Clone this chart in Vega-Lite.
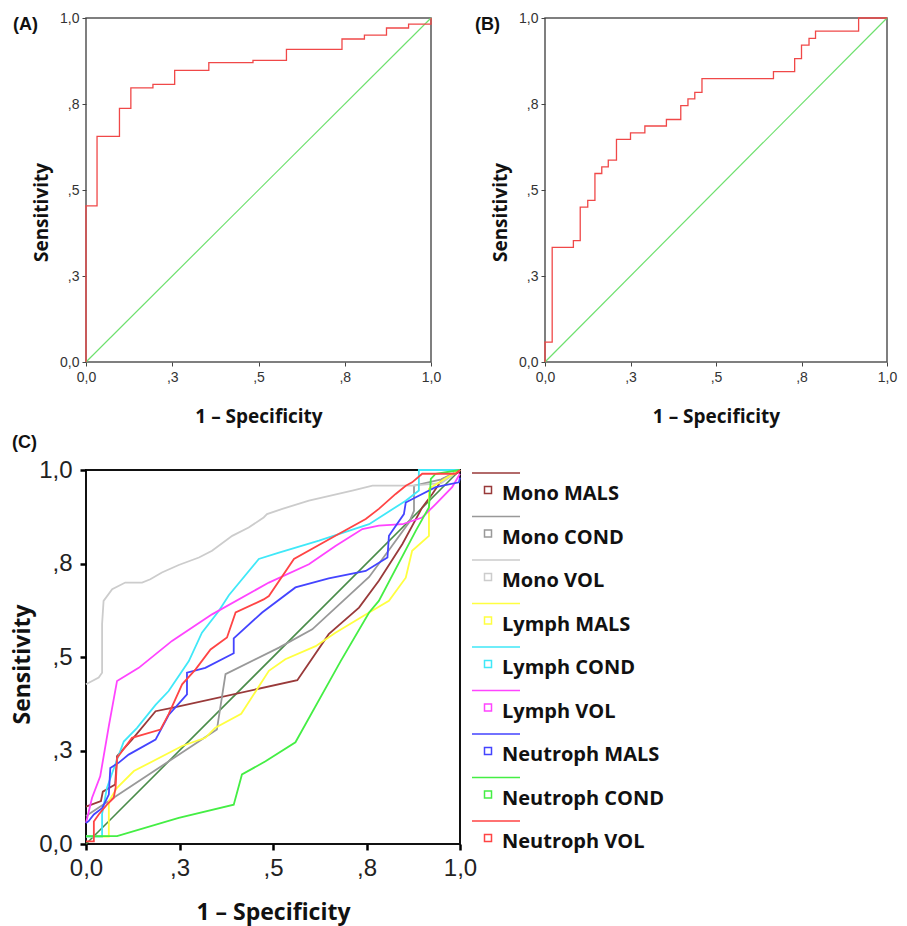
{
  "$schema": "https://vega.github.io/schema/vega-lite/v6.json",
  "padding": {"left": 10, "top": 10, "right": 5, "bottom": 5},
  "background": "white",
  "datasets": {
    "diag": [{"x": 0, "y": 0}, {"x": 1, "y": 1}],
    "rocA": [
      {"i": 0, "x": 0, "y": 0}, {"i": 1, "x": 0, "y": 0.454}, {"i": 2, "x": 0.032, "y": 0.656},
      {"i": 3, "x": 0.097, "y": 0.737}, {"i": 4, "x": 0.13, "y": 0.797}, {"i": 5, "x": 0.194, "y": 0.807},
      {"i": 6, "x": 0.257, "y": 0.848}, {"i": 7, "x": 0.356, "y": 0.87}, {"i": 8, "x": 0.484, "y": 0.877},
      {"i": 9, "x": 0.581, "y": 0.909}, {"i": 10, "x": 0.742, "y": 0.939}, {"i": 11, "x": 0.807, "y": 0.95},
      {"i": 12, "x": 0.871, "y": 0.971}, {"i": 13, "x": 0.935, "y": 0.982}, {"i": 14, "x": 1, "y": 1}
    ],
    "rocB": [
      {"i": 0, "x": 0, "y": 0}, {"i": 1, "x": 0, "y": 0.058}, {"i": 2, "x": 0.021, "y": 0.333},
      {"i": 3, "x": 0.083, "y": 0.353}, {"i": 4, "x": 0.103, "y": 0.45}, {"i": 5, "x": 0.125, "y": 0.47},
      {"i": 6, "x": 0.146, "y": 0.548}, {"i": 7, "x": 0.166, "y": 0.567}, {"i": 8, "x": 0.185, "y": 0.587},
      {"i": 9, "x": 0.209, "y": 0.647}, {"i": 10, "x": 0.25, "y": 0.666}, {"i": 11, "x": 0.292, "y": 0.686},
      {"i": 12, "x": 0.355, "y": 0.705}, {"i": 13, "x": 0.397, "y": 0.745}, {"i": 14, "x": 0.418, "y": 0.765},
      {"i": 15, "x": 0.438, "y": 0.784}, {"i": 16, "x": 0.459, "y": 0.824}, {"i": 17, "x": 0.668, "y": 0.844},
      {"i": 18, "x": 0.73, "y": 0.882}, {"i": 19, "x": 0.75, "y": 0.921}, {"i": 20, "x": 0.772, "y": 0.941},
      {"i": 21, "x": 0.791, "y": 0.962}, {"i": 22, "x": 0.917, "y": 1.0}, {"i": 23, "x": 1, "y": 1}
    ],
    "rocC": [
      {"s": "Mono MALS", "i": 0, "x": 0, "y": 0.1}, {"s": "Mono MALS", "i": 1, "x": 0.04, "y": 0.115},
      {"s": "Mono MALS", "i": 2, "x": 0.045, "y": 0.14}, {"s": "Mono MALS", "i": 3, "x": 0.078, "y": 0.159},
      {"s": "Mono MALS", "i": 4, "x": 0.083, "y": 0.235}, {"s": "Mono MALS", "i": 5, "x": 0.123, "y": 0.279},
      {"s": "Mono MALS", "i": 6, "x": 0.186, "y": 0.355}, {"s": "Mono MALS", "i": 7, "x": 0.23, "y": 0.364},
      {"s": "Mono MALS", "i": 8, "x": 0.565, "y": 0.438}, {"s": "Mono MALS", "i": 9, "x": 0.649, "y": 0.561},
      {"s": "Mono MALS", "i": 10, "x": 0.73, "y": 0.632}, {"s": "Mono MALS", "i": 11, "x": 0.783, "y": 0.704},
      {"s": "Mono MALS", "i": 12, "x": 0.846, "y": 0.802}, {"s": "Mono MALS", "i": 13, "x": 0.899, "y": 0.9},
      {"s": "Mono MALS", "i": 14, "x": 0.926, "y": 0.936}, {"s": "Mono MALS", "i": 15, "x": 0.953, "y": 0.976},
      {"s": "Mono MALS", "i": 16, "x": 0.997, "y": 0.994}, {"s": "Mono MALS", "i": 17, "x": 1, "y": 1},

      {"s": "Mono COND", "i": 0, "x": 0, "y": 0.075}, {"s": "Mono COND", "i": 1, "x": 0.35, "y": 0.306},
      {"s": "Mono COND", "i": 2, "x": 0.373, "y": 0.454}, {"s": "Mono COND", "i": 3, "x": 0.516, "y": 0.525},
      {"s": "Mono COND", "i": 4, "x": 0.605, "y": 0.574}, {"s": "Mono COND", "i": 5, "x": 0.757, "y": 0.714},
      {"s": "Mono COND", "i": 6, "x": 0.815, "y": 0.793}, {"s": "Mono COND", "i": 7, "x": 0.864, "y": 0.86},
      {"s": "Mono COND", "i": 8, "x": 0.877, "y": 0.891}, {"s": "Mono COND", "i": 9, "x": 0.877, "y": 0.958},
      {"s": "Mono COND", "i": 10, "x": 0.95, "y": 0.975}, {"s": "Mono COND", "i": 11, "x": 1, "y": 1},

      {"s": "Mono VOL", "i": 0, "x": 0, "y": 0.427}, {"s": "Mono VOL", "i": 1, "x": 0.034, "y": 0.445},
      {"s": "Mono VOL", "i": 2, "x": 0.043, "y": 0.458}, {"s": "Mono VOL", "i": 3, "x": 0.043, "y": 0.588},
      {"s": "Mono VOL", "i": 4, "x": 0.047, "y": 0.65}, {"s": "Mono VOL", "i": 5, "x": 0.07, "y": 0.681},
      {"s": "Mono VOL", "i": 6, "x": 0.105, "y": 0.699}, {"s": "Mono VOL", "i": 7, "x": 0.15, "y": 0.699},
      {"s": "Mono VOL", "i": 8, "x": 0.172, "y": 0.708}, {"s": "Mono VOL", "i": 9, "x": 0.203, "y": 0.726},
      {"s": "Mono VOL", "i": 10, "x": 0.248, "y": 0.746}, {"s": "Mono VOL", "i": 11, "x": 0.302, "y": 0.766},
      {"s": "Mono VOL", "i": 12, "x": 0.337, "y": 0.784}, {"s": "Mono VOL", "i": 13, "x": 0.391, "y": 0.824},
      {"s": "Mono VOL", "i": 14, "x": 0.435, "y": 0.846}, {"s": "Mono VOL", "i": 15, "x": 0.475, "y": 0.873},
      {"s": "Mono VOL", "i": 16, "x": 0.484, "y": 0.882}, {"s": "Mono VOL", "i": 17, "x": 0.525, "y": 0.896},
      {"s": "Mono VOL", "i": 18, "x": 0.596, "y": 0.918}, {"s": "Mono VOL", "i": 19, "x": 0.712, "y": 0.945},
      {"s": "Mono VOL", "i": 20, "x": 0.766, "y": 0.958}, {"s": "Mono VOL", "i": 21, "x": 0.872, "y": 0.958},
      {"s": "Mono VOL", "i": 22, "x": 0.95, "y": 0.965}, {"s": "Mono VOL", "i": 23, "x": 1, "y": 1},

      {"s": "Lymph MALS", "i": 0, "x": 0, "y": 0.02}, {"s": "Lymph MALS", "i": 1, "x": 0.061, "y": 0.02},
      {"s": "Lymph MALS", "i": 2, "x": 0.061, "y": 0.114}, {"s": "Lymph MALS", "i": 3, "x": 0.083, "y": 0.15},
      {"s": "Lymph MALS", "i": 4, "x": 0.128, "y": 0.195}, {"s": "Lymph MALS", "i": 5, "x": 0.257, "y": 0.262},
      {"s": "Lymph MALS", "i": 6, "x": 0.319, "y": 0.284}, {"s": "Lymph MALS", "i": 7, "x": 0.346, "y": 0.311},
      {"s": "Lymph MALS", "i": 8, "x": 0.415, "y": 0.348}, {"s": "Lymph MALS", "i": 9, "x": 0.489, "y": 0.463},
      {"s": "Lymph MALS", "i": 10, "x": 0.533, "y": 0.494}, {"s": "Lymph MALS", "i": 11, "x": 0.614, "y": 0.529},
      {"s": "Lymph MALS", "i": 12, "x": 0.667, "y": 0.565}, {"s": "Lymph MALS", "i": 13, "x": 0.757, "y": 0.619},
      {"s": "Lymph MALS", "i": 14, "x": 0.81, "y": 0.65}, {"s": "Lymph MALS", "i": 15, "x": 0.855, "y": 0.712},
      {"s": "Lymph MALS", "i": 16, "x": 0.872, "y": 0.784}, {"s": "Lymph MALS", "i": 17, "x": 0.917, "y": 0.824},
      {"s": "Lymph MALS", "i": 18, "x": 0.917, "y": 0.95}, {"s": "Lymph MALS", "i": 19, "x": 0.962, "y": 0.978},
      {"s": "Lymph MALS", "i": 20, "x": 1, "y": 1},

      {"s": "Lymph COND", "i": 0, "x": 0, "y": 0.02}, {"s": "Lymph COND", "i": 1, "x": 0.043, "y": 0.02},
      {"s": "Lymph COND", "i": 2, "x": 0.043, "y": 0.08}, {"s": "Lymph COND", "i": 3, "x": 0.056, "y": 0.15},
      {"s": "Lymph COND", "i": 4, "x": 0.07, "y": 0.19}, {"s": "Lymph COND", "i": 5, "x": 0.101, "y": 0.274},
      {"s": "Lymph COND", "i": 6, "x": 0.136, "y": 0.31}, {"s": "Lymph COND", "i": 7, "x": 0.186, "y": 0.372},
      {"s": "Lymph COND", "i": 8, "x": 0.221, "y": 0.409}, {"s": "Lymph COND", "i": 9, "x": 0.275, "y": 0.489},
      {"s": "Lymph COND", "i": 10, "x": 0.31, "y": 0.565}, {"s": "Lymph COND", "i": 11, "x": 0.355, "y": 0.623},
      {"s": "Lymph COND", "i": 12, "x": 0.382, "y": 0.665}, {"s": "Lymph COND", "i": 13, "x": 0.462, "y": 0.762},
      {"s": "Lymph COND", "i": 14, "x": 0.516, "y": 0.779}, {"s": "Lymph COND", "i": 15, "x": 0.623, "y": 0.811},
      {"s": "Lymph COND", "i": 16, "x": 0.757, "y": 0.855}, {"s": "Lymph COND", "i": 17, "x": 0.855, "y": 0.918},
      {"s": "Lymph COND", "i": 18, "x": 0.89, "y": 0.945}, {"s": "Lymph COND", "i": 19, "x": 0.89, "y": 1.0},
      {"s": "Lymph COND", "i": 20, "x": 1, "y": 1},

      {"s": "Lymph VOL", "i": 0, "x": 0, "y": 0.056}, {"s": "Lymph VOL", "i": 1, "x": 0.016, "y": 0.123},
      {"s": "Lymph VOL", "i": 2, "x": 0.038, "y": 0.181}, {"s": "Lymph VOL", "i": 3, "x": 0.061, "y": 0.315},
      {"s": "Lymph VOL", "i": 4, "x": 0.083, "y": 0.436}, {"s": "Lymph VOL", "i": 5, "x": 0.141, "y": 0.471},
      {"s": "Lymph VOL", "i": 6, "x": 0.23, "y": 0.543}, {"s": "Lymph VOL", "i": 7, "x": 0.337, "y": 0.614},
      {"s": "Lymph VOL", "i": 8, "x": 0.489, "y": 0.699}, {"s": "Lymph VOL", "i": 9, "x": 0.596, "y": 0.748},
      {"s": "Lymph VOL", "i": 10, "x": 0.667, "y": 0.797}, {"s": "Lymph VOL", "i": 11, "x": 0.739, "y": 0.842},
      {"s": "Lymph VOL", "i": 12, "x": 0.783, "y": 0.851}, {"s": "Lymph VOL", "i": 13, "x": 0.846, "y": 0.855},
      {"s": "Lymph VOL", "i": 14, "x": 0.899, "y": 0.873}, {"s": "Lymph VOL", "i": 15, "x": 0.935, "y": 0.909},
      {"s": "Lymph VOL", "i": 16, "x": 0.979, "y": 0.954}, {"s": "Lymph VOL", "i": 17, "x": 1, "y": 0.99},

      {"s": "Neutroph MALS", "i": 0, "x": 0, "y": 0.056}, {"s": "Neutroph MALS", "i": 1, "x": 0.007, "y": 0.061},
      {"s": "Neutroph MALS", "i": 2, "x": 0.021, "y": 0.079}, {"s": "Neutroph MALS", "i": 3, "x": 0.043, "y": 0.096},
      {"s": "Neutroph MALS", "i": 4, "x": 0.061, "y": 0.132}, {"s": "Neutroph MALS", "i": 5, "x": 0.065, "y": 0.203},
      {"s": "Neutroph MALS", "i": 6, "x": 0.087, "y": 0.217}, {"s": "Neutroph MALS", "i": 7, "x": 0.114, "y": 0.239},
      {"s": "Neutroph MALS", "i": 8, "x": 0.186, "y": 0.279}, {"s": "Neutroph MALS", "i": 9, "x": 0.221, "y": 0.345},
      {"s": "Neutroph MALS", "i": 10, "x": 0.27, "y": 0.4}, {"s": "Neutroph MALS", "i": 11, "x": 0.27, "y": 0.458},
      {"s": "Neutroph MALS", "i": 12, "x": 0.319, "y": 0.471}, {"s": "Neutroph MALS", "i": 13, "x": 0.395, "y": 0.51},
      {"s": "Neutroph MALS", "i": 14, "x": 0.395, "y": 0.55}, {"s": "Neutroph MALS", "i": 15, "x": 0.471, "y": 0.619},
      {"s": "Neutroph MALS", "i": 16, "x": 0.56, "y": 0.686}, {"s": "Neutroph MALS", "i": 17, "x": 0.649, "y": 0.71},
      {"s": "Neutroph MALS", "i": 18, "x": 0.748, "y": 0.73}, {"s": "Neutroph MALS", "i": 19, "x": 0.806, "y": 0.766},
      {"s": "Neutroph MALS", "i": 20, "x": 0.81, "y": 0.824}, {"s": "Neutroph MALS", "i": 21, "x": 0.85, "y": 0.882},
      {"s": "Neutroph MALS", "i": 22, "x": 0.855, "y": 0.913}, {"s": "Neutroph MALS", "i": 23, "x": 0.882, "y": 0.927},
      {"s": "Neutroph MALS", "i": 24, "x": 0.935, "y": 0.954}, {"s": "Neutroph MALS", "i": 25, "x": 0.997, "y": 0.967},
      {"s": "Neutroph MALS", "i": 26, "x": 1, "y": 0.98},

      {"s": "Neutroph COND", "i": 0, "x": 0, "y": 0.021}, {"s": "Neutroph COND", "i": 1, "x": 0.083, "y": 0.021},
      {"s": "Neutroph COND", "i": 2, "x": 0.248, "y": 0.07}, {"s": "Neutroph COND", "i": 3, "x": 0.395, "y": 0.105},
      {"s": "Neutroph COND", "i": 4, "x": 0.417, "y": 0.186}, {"s": "Neutroph COND", "i": 5, "x": 0.48, "y": 0.221},
      {"s": "Neutroph COND", "i": 6, "x": 0.56, "y": 0.272}, {"s": "Neutroph COND", "i": 7, "x": 0.681, "y": 0.489},
      {"s": "Neutroph COND", "i": 8, "x": 0.757, "y": 0.619}, {"s": "Neutroph COND", "i": 9, "x": 0.783, "y": 0.65},
      {"s": "Neutroph COND", "i": 10, "x": 0.882, "y": 0.838}, {"s": "Neutroph COND", "i": 11, "x": 0.917, "y": 0.9},
      {"s": "Neutroph COND", "i": 12, "x": 0.922, "y": 0.976}, {"s": "Neutroph COND", "i": 13, "x": 0.935, "y": 0.99},
      {"s": "Neutroph COND", "i": 14, "x": 1, "y": 1},

      {"s": "Neutroph VOL", "i": 0, "x": 0, "y": 0.007}, {"s": "Neutroph VOL", "i": 1, "x": 0.021, "y": 0.007},
      {"s": "Neutroph VOL", "i": 2, "x": 0.021, "y": 0.06}, {"s": "Neutroph VOL", "i": 3, "x": 0.034, "y": 0.079},
      {"s": "Neutroph VOL", "i": 4, "x": 0.056, "y": 0.105}, {"s": "Neutroph VOL", "i": 5, "x": 0.074, "y": 0.123},
      {"s": "Neutroph VOL", "i": 6, "x": 0.079, "y": 0.15}, {"s": "Neutroph VOL", "i": 7, "x": 0.083, "y": 0.23},
      {"s": "Neutroph VOL", "i": 8, "x": 0.123, "y": 0.284}, {"s": "Neutroph VOL", "i": 9, "x": 0.199, "y": 0.306},
      {"s": "Neutroph VOL", "i": 10, "x": 0.221, "y": 0.347}, {"s": "Neutroph VOL", "i": 11, "x": 0.257, "y": 0.427},
      {"s": "Neutroph VOL", "i": 12, "x": 0.293, "y": 0.467}, {"s": "Neutroph VOL", "i": 13, "x": 0.333, "y": 0.52},
      {"s": "Neutroph VOL", "i": 14, "x": 0.377, "y": 0.552}, {"s": "Neutroph VOL", "i": 15, "x": 0.4, "y": 0.619},
      {"s": "Neutroph VOL", "i": 16, "x": 0.475, "y": 0.654}, {"s": "Neutroph VOL", "i": 17, "x": 0.489, "y": 0.663},
      {"s": "Neutroph VOL", "i": 18, "x": 0.556, "y": 0.762}, {"s": "Neutroph VOL", "i": 19, "x": 0.667, "y": 0.824},
      {"s": "Neutroph VOL", "i": 20, "x": 0.748, "y": 0.869}, {"s": "Neutroph VOL", "i": 21, "x": 0.783, "y": 0.896},
      {"s": "Neutroph VOL", "i": 22, "x": 0.828, "y": 0.936}, {"s": "Neutroph VOL", "i": 23, "x": 0.855, "y": 0.958},
      {"s": "Neutroph VOL", "i": 24, "x": 0.872, "y": 0.967}, {"s": "Neutroph VOL", "i": 25, "x": 0.899, "y": 0.99},
      {"s": "Neutroph VOL", "i": 26, "x": 0.988, "y": 0.99}, {"s": "Neutroph VOL", "i": 27, "x": 1, "y": 1}
    ]
  },
  "config": {
    "font": "Liberation Sans",
    "view": {"stroke": "#555555", "strokeWidth": 1.5},
    "axis": {
      "grid": false, "domain": false, "labelFont": "Liberation Sans", "labelColor": "#333333",
      "titleFont": "Open Sans", "titleFontWeight": "bold", "titleColor": "#111111",
      "tickColor": "#444444", "labelFlush": false, "labelOverlap": false
    },
    "title": {"font": "Liberation Sans", "fontWeight": "bold", "fontSize": 18, "anchor": "start", "frame": "group", "color": "#111111"}
  },
  "resolve": {"scale": {"color": "independent"}, "legend": {"color": "independent"}},
  "spacing": 6,
  "vconcat": [
    {
      "spacing": 32,
      "hconcat": [
        {
          "width": 345, "height": 344,
          "title": {"text": "(A)", "dx": -73, "dy": 23, "offset": 0},
          "encoding": {
            "x": {"field": "x", "type": "quantitative", "scale": {"domain": [0, 1]},
              "axis": {"values": [0, 0.25, 0.5, 0.75, 1], "labelExpr": "datum.value == 0 ? '0,0' : datum.value == 1 ? '1,0' : datum.value == 0.25 ? ',3' : datum.value == 0.5 ? ',5' : ',8'",
                "title": "1 – Specificity", "labelFontSize": 14, "tickSize": 4, "labelPadding": 4, "titlePadding": 23, "titleFontSize": 19}},
            "y": {"field": "y", "type": "quantitative", "scale": {"domain": [0, 1]},
              "axis": {"values": [0, 0.25, 0.5, 0.75, 1], "labelExpr": "datum.value == 0 ? '0,0' : datum.value == 1 ? '1,0' : datum.value == 0.25 ? ',3' : datum.value == 0.5 ? ',5' : ',8'",
                "title": "Sensitivity", "titleY": 194, "labelFontSize": 14, "tickSize": 4, "labelPadding": 3, "titlePadding": 8, "titleFontSize": 19}}
          },
          "layer": [
            {"data": {"name": "diag"}, "mark": {"type": "line", "color": "#6ee06e", "strokeWidth": 1.2}},
            {"data": {"name": "rocA"}, "mark": {"type": "line", "color": "#f04848", "strokeWidth": 1.3, "interpolate": "step-after"},
              "encoding": {"order": {"field": "i", "type": "quantitative"}}}
          ]
        },
        {
          "width": 342, "height": 344,
          "title": {"text": "(B)", "dx": -70, "dy": 23, "offset": 0},
          "encoding": {
            "x": {"field": "x", "type": "quantitative", "scale": {"domain": [0, 1]},
              "axis": {"values": [0, 0.25, 0.5, 0.75, 1], "labelExpr": "datum.value == 0 ? '0,0' : datum.value == 1 ? '1,0' : datum.value == 0.25 ? ',3' : datum.value == 0.5 ? ',5' : ',8'",
                "title": "1 – Specificity", "labelFontSize": 14, "tickSize": 4, "labelPadding": 4, "titlePadding": 23, "titleFontSize": 19}},
            "y": {"field": "y", "type": "quantitative", "scale": {"domain": [0, 1]},
              "axis": {"values": [0, 0.25, 0.5, 0.75, 1], "labelExpr": "datum.value == 0 ? '0,0' : datum.value == 1 ? '1,0' : datum.value == 0.25 ? ',3' : datum.value == 0.5 ? ',5' : ',8'",
                "title": "Sensitivity", "titleY": 194, "labelFontSize": 14, "tickSize": 4, "labelPadding": 3, "titlePadding": 8, "titleFontSize": 19}}
          },
          "layer": [
            {"data": {"name": "diag"}, "mark": {"type": "line", "color": "#6ee06e", "strokeWidth": 1.2}},
            {"data": {"name": "rocB"}, "mark": {"type": "line", "color": "#f04848", "strokeWidth": 1.3, "interpolate": "step-after"},
              "encoding": {"order": {"field": "i", "type": "quantitative"}}}
          ]
        }
      ]
    },
    {
      "width": 374, "height": 374,
      "view": {"stroke": "#111111", "strokeWidth": 2},
      "title": {"text": "(C)", "dx": -74, "offset": 6},
      "encoding": {
        "x": {"field": "x", "type": "quantitative", "scale": {"domain": [0, 1]},
          "axis": {"values": [0, 0.25, 0.5, 0.75, 1], "labelExpr": "datum.value == 0 ? '0,0' : datum.value == 1 ? '1,0' : datum.value == 0.25 ? ',3' : datum.value == 0.5 ? ',5' : ',8'",
            "title": "1 – Specificity", "labelFontSize": 24, "labelColor": "#222222", "tickSize": 6, "tickWidth": 2.5, "tickColor": "#000000", "labelPadding": 6, "titlePadding": 21, "titleFontSize": 23}},
        "y": {"field": "y", "type": "quantitative", "scale": {"domain": [0, 1]},
          "axis": {"values": [0, 0.25, 0.5, 0.75, 1], "labelExpr": "datum.value == 0 ? '0,0' : datum.value == 1 ? '1,0' : datum.value == 0.25 ? ',3' : datum.value == 0.5 ? ',5' : ',8'",
            "title": "Sensitivity", "titleY": 194, "labelFontSize": 24, "labelColor": "#222222", "tickSize": 6, "tickWidth": 2.5, "tickColor": "#000000", "labelPadding": 8, "titlePadding": 4, "titleFontSize": 23}}
      },
      "layer": [
        {"data": {"name": "diag"}, "mark": {"type": "line", "color": "#4a8c4a", "strokeWidth": 1.6}},
        {"data": {"name": "rocC"}, "mark": {"type": "line", "strokeWidth": 1.8},
          "encoding": {
            "order": {"field": "i", "type": "quantitative"},
            "color": {"field": "s", "type": "nominal",
              "scale": {
                "domain": ["Mono MALS", "Mono COND", "Mono VOL", "Lymph MALS", "Lymph COND", "Lymph VOL", "Neutroph MALS", "Neutroph COND", "Neutroph VOL"],
                "range": ["#993a3a", "#999999", "#cccccc", "#ffff40", "#40e8f8", "#ff44ff", "#4444ff", "#44ee44", "#ff4444"]},
              "legend": {
                "title": null, "orient": "right", "offset": 0, "padding": 14,
                "symbolType": "M-16,-21H32M-3.5,-7.5H3.5V-0.5H-3.5Z", "symbolSize": 4, "symbolStrokeWidth": 1.5,
                "symbolFillColor": "transparent",
                "labelFont": "Open Sans", "labelFontWeight": "bold", "labelFontSize": 20, "labelColor": "#111111",
                "labelOffset": 4, "rowPadding": 9.5, "labelLimit": 300
              }
            }
          }
        }
      ]
    }
  ]
}
